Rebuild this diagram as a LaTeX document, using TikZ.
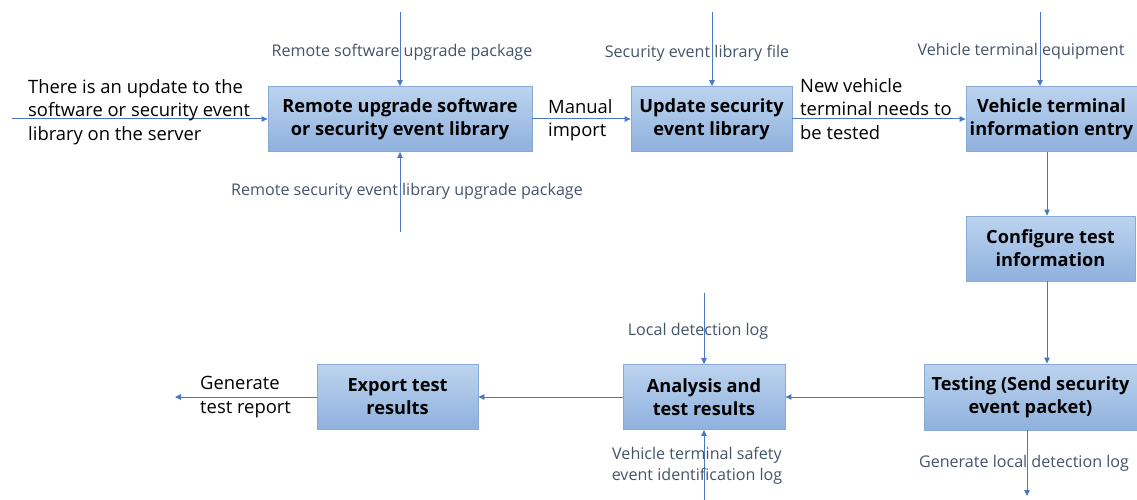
\documentclass[tikz,border=0pt]{standalone}
\usepackage{fontspec}
\setmainfont{Open Sans}
\usetikzlibrary{arrows.meta}
\definecolor{boxtop}{HTML}{BCD3EE}
\definecolor{boxbot}{HTML}{8FB1DE}
\definecolor{boxline}{HTML}{8AAAD6}
\definecolor{flow}{HTML}{4A78C2}
\definecolor{lbl}{HTML}{44546A}
\begin{document}
\begin{tikzpicture}[x=1pt,y=-1pt,
  stage/.style={draw=boxline, line width=0.8pt, top color=boxtop, bottom color=boxbot,
    font=\fontsize{18.2}{23}\selectfont\bfseries, align=center, inner sep=0pt, minimum height=65pt},
  flowline/.style={draw=flow, line width=1pt, -{Triangle[length=6pt,width=5.5pt]}},
  tag/.style={text=lbl, font=\fontsize{16.1}{20}\selectfont, align=center, inner sep=0pt},
  note/.style={text=black, font=\fontsize{18.4}{23.5}\selectfont, align=left, inner sep=0pt, anchor=west},
]
\useasboundingbox (0,0) rectangle (1137,500);

% process boxes
\node[stage, minimum width=264pt] (b1) at (400,119) {Remote upgrade software\\or security event library};
\node[stage, minimum width=161pt] (b2) at (711.5,119) {Update security\\event library};
\node[stage, minimum width=171pt] (b3) at (1051.5,119) {Vehicle terminal\\information entry};
\node[stage, minimum width=169pt] (b4) at (1050.5,248.5) {Configure test\\information};
\node[stage, minimum width=213pt, minimum height=66pt] (b5) at (1030.5,397) {Testing (Send security\\event packet)};
\node[stage, minimum width=162pt] (b6) at (704,397) {Analysis and\\test results};
\node[stage, minimum width=161pt] (b7) at (397.5,397) {Export test\\results};

% free line ends
\coordinate (in1) at (12,119);
\coordinate (t1) at (400,12);
\coordinate (u1) at (400,232);
\coordinate (t2) at (712,12);
\coordinate (t3) at (1040,12);
\coordinate (x4) at (1047,0);
\coordinate (g5) at (1027,496);
\coordinate (t6) at (704,293);
\coordinate (u6) at (704,500);
\coordinate (out7) at (175,397);

% connectors
\draw[flowline] (in1) -- (b1.west);
\draw[flowline] (t1) -- (b1.north);
\draw[flowline] (u1) -- (b1.south);
\draw[flowline] (b1.east) -- (b2.west);
\draw[flowline] (t2) -- (t2|-b2.north);
\draw[flowline] (b2.east) -- (b3.west);
\draw[flowline] (t3) -- (t3|-b3.north);
\draw[flowline] (x4|-b3.south) -- (x4|-b4.north);
\draw[flowline] (x4|-b4.south) -- (x4|-b5.north);
\draw[flowline] (b5.west) -- (b6.east);
\draw[flowline] (g5|-b5.south) -- (g5);
\draw[flowline] (t6) -- (b6.north);
\draw[flowline] (u6) -- (b6.south);
\draw[flowline] (b6.west) -- (b7.east);
\draw[flowline] (b7.west) -- (out7);

% connector labels
\node[tag] (l1) at (402,52) {Remote software upgrade package};
\node[tag] (l2) at (407,191) {Remote security event library upgrade package};
\node[tag] (l3) at (697,53) {Security event library file};
\node[tag] (l4) at (1021,51) {Vehicle terminal equipment};
\node[tag] (l5) at (1024,463) {Generate local detection log};
\node[tag] (l6) at (698,331) {Local detection log};
\node[tag, font=\fontsize{16.1}{21}\selectfont] (l7) at (697,466) {Vehicle terminal safety\\event identification log};

\node[note] (n1) at (28,112) {There is an update to the\\software or security event\\library on the server};
\node[note] (n2) at (548,120) {Manual\\import};
\node[note] (n3) at (800,109) {New vehicle\\terminal needs to\\be tested};
\node[note] (n4) at (200,397) {Generate\\test report};
\end{tikzpicture}
\end{document}
